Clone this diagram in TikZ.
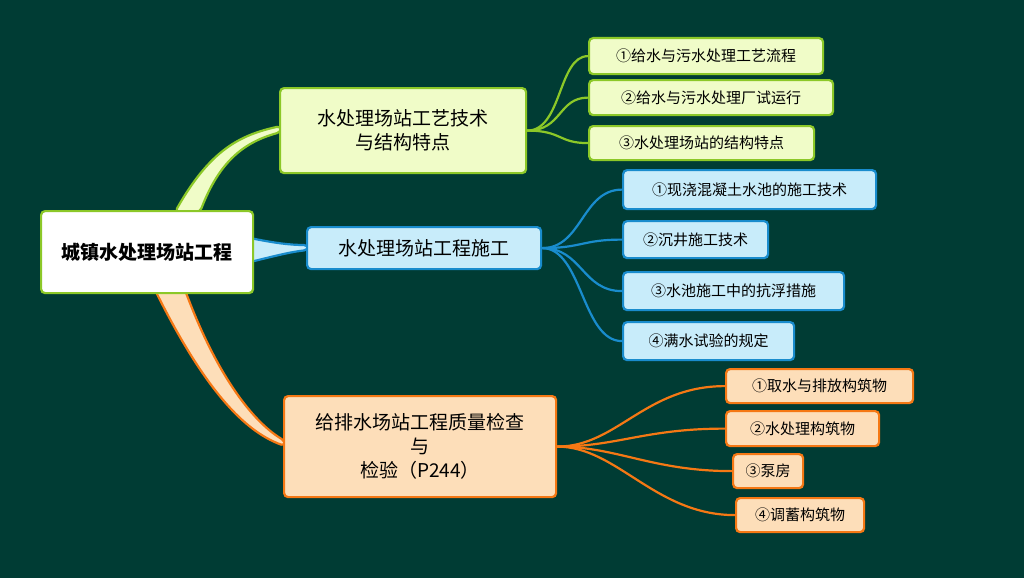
\documentclass[tikz,border=0pt]{standalone}
\usepackage{fontspec}
\setmainfont{Noto Sans CJK SC}
\begin{document}
\begin{tikzpicture}[x=1pt,y=-1pt,
 box/.style={draw,line width=2.2pt,rounded corners=4pt,anchor=north west,inner sep=0pt,align=center},
 gB/.style={box,draw=gB,fill=gF},
 bB/.style={box,draw=bB,fill=bF},
 oB/.style={box,draw=oB,fill=oF},
 leaf/.style={font=\fontsize{15}{18}\selectfont},
 br/.style={font=\fontsize{19}{24}\selectfont},
 gl/.style={draw=gB,line width=2.2pt},
 bl/.style={draw=bB,line width=2.2pt},
 ol/.style={draw=oB,line width=2.2pt}]
\definecolor{bg}{RGB}{0,60,52}
\definecolor{gB}{RGB}{140,200,40}\definecolor{gF}{RGB}{240,252,200}
\definecolor{bB}{RGB}{25,140,205}\definecolor{bF}{RGB}{200,236,250}
\definecolor{oB}{RGB}{245,120,20}\definecolor{oF}{RGB}{253,222,185}
\fill[bg] (0,0) rectangle (1024,578);
\useasboundingbox (0,0) rectangle (1024,578);
% trunk connectors (tapered)
\fill[gB] (175,212) .. controls (210,150) and (240,135) .. (281,126) -- (281,132) .. controls (245,142) and (220,160) .. (200,212) -- cycle;
\fill[bB] (250,238) .. controls (275,243) and (290,245) .. (308,245) -- (308,250) .. controls (290,252) and (275,256) .. (250,262) -- cycle;
\fill[oB] (155,290) .. controls (200,380) and (240,430) .. (285,446) -- (285,441) .. controls (250,420) and (215,370) .. (185,290) -- cycle;
% nodes
\node[box,draw=gB,fill=white,minimum width=212,minimum height=82,font=\bfseries\fontsize{19}{24}\selectfont] (root) at (40,210) {城镇水处理场站工程};
\node[gB,br,minimum width=246,minimum height=85] (b1) at (279,87) {水处理场站工艺技术\\与结构特点};
\node[bB,br,minimum width=234,minimum height=42] (b2) at (306,226) {水处理场站工程施工};
\node[oB,br,minimum width=272,minimum height=101] (b3) at (283,395) {给排水场站工程质量检查\\与\\检验（P244）};
\node[gB,leaf,minimum width=234,minimum height=36] (g1) at (588,37) {①给水与污水处理工艺流程};
\node[gB,leaf,minimum width=244,minimum height=35] (g2) at (588,79) {②给水与污水处理厂试运行};
\node[gB,leaf,minimum width=225,minimum height=34] (g3) at (588,125) {③水处理场站的结构特点};
\node[bB,leaf,minimum width=253,minimum height=39] (l1) at (622,169) {①现浇混凝土水池的施工技术};
\node[bB,leaf,minimum width=145,minimum height=37] (l2) at (622,220) {②沉井施工技术};
\node[bB,leaf,minimum width=221,minimum height=38] (l3) at (622,271) {③水池施工中的抗浮措施};
\node[bB,leaf,minimum width=171,minimum height=38] (l4) at (622,321) {④满水试验的规定};
\node[oB,leaf,minimum width=187,minimum height=34] (o1) at (725,368) {①取水与排放构筑物};
\node[oB,leaf,minimum width=153,minimum height=35] (o2) at (725,410) {②水处理构筑物};
\node[oB,leaf,minimum width=70,minimum height=34] (o3) at (732,453) {③泵房};
\node[oB,leaf,minimum width=128,minimum height=34] (o4) at (735,497) {④调蓄构筑物};
% branch-leaf connectors
\foreach \n in {g1,g2,g3}{\draw[gl] (b1.east) .. controls +(35,0) and +(-30,0) .. (\n.west);}
\foreach \n in {l1,l2,l3,l4}{\draw[bl] (b2.east) .. controls +(40,0) and +(-40,0) .. (\n.west);}
\foreach \n in {o1,o2,o3,o4}{\draw[ol] (b3.east) .. controls +(60,0) and +(-80,0) .. (\n.west);}
\end{tikzpicture}
\end{document}
